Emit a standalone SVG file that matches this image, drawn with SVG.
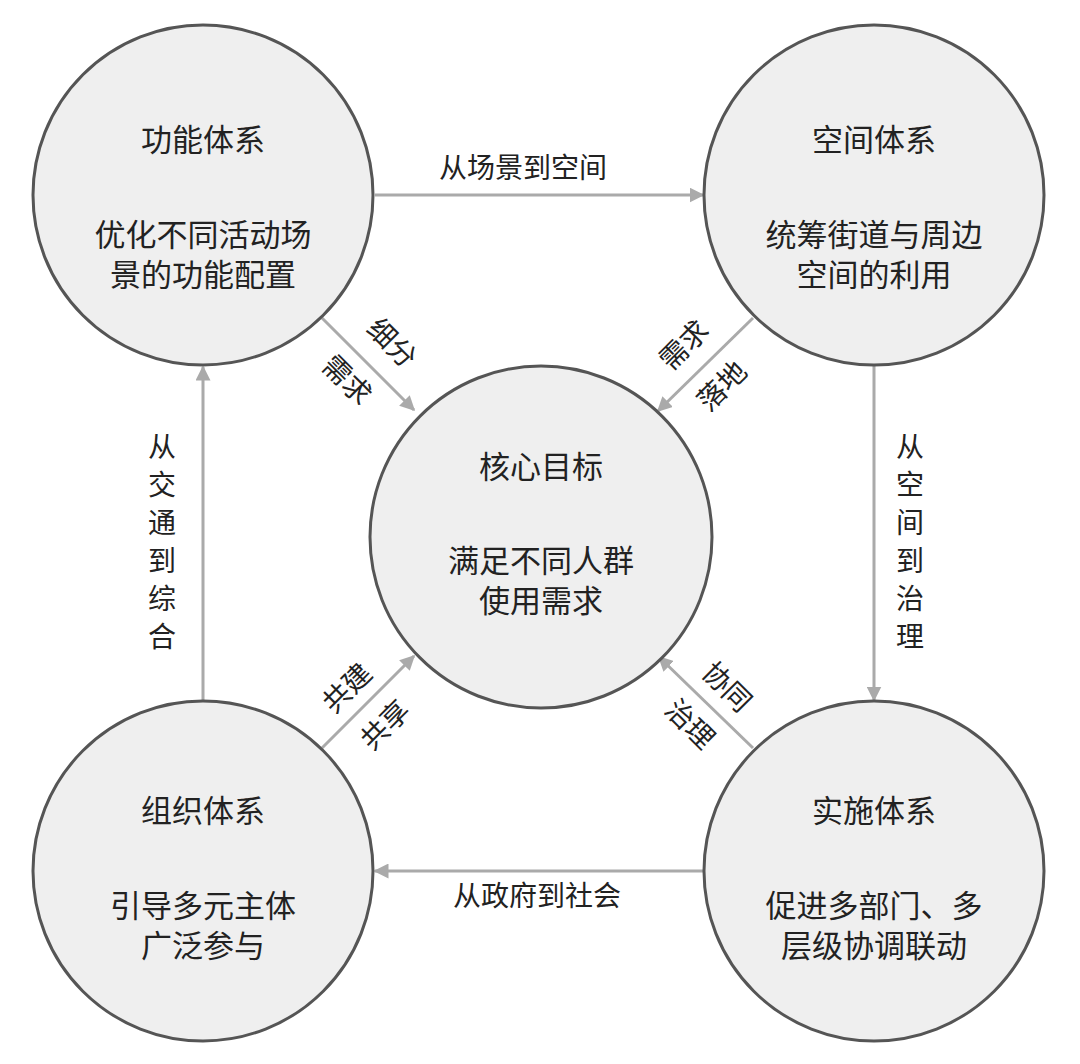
<svg xmlns="http://www.w3.org/2000/svg" width="1080" height="1064" viewBox="0 0 1080 1064">
<style>
.n{fill:#efefef;stroke:#555;stroke-width:3}
text{font-family:"Noto Sans CJK SC",sans-serif;fill:#222;text-anchor:middle}
.t{font-size:31px}
.l{font-size:28px}
.c{stroke:#aaa;stroke-width:3;fill:none;marker-end:url(#a)}
</style>
<defs><marker id="a" viewBox="0 0 10 10" refX="9" refY="5" markerWidth="5" markerHeight="5" orient="auto"><path d="M0,0L10,5L0,10z" fill="#aaa"/></marker></defs>
<rect width="1080" height="1064" fill="#fff"/>
<g id="connectors">
<path class="c" d="M375,195H703"/>
<path class="c" d="M874,366V700"/>
<path class="c" d="M705,871H375"/>
<path class="c" d="M203,700V367"/>
<path class="c" d="M322,318L414,410"/>
<path class="c" d="M753,318L658,411"/>
<path class="c" d="M322,748L414,656"/>
<path class="c" d="M753,748L659,657"/>
</g>
<g id="labels" class="l">
<text class="l" x="523" y="178">从场景到空间</text>
<text class="l" x="537" y="906">从政府到社会</text>
<text class="l" x="910" y="457">从</text><text class="l" x="910" y="495">空</text><text class="l" x="910" y="533">间</text><text class="l" x="910" y="571">到</text><text class="l" x="910" y="609">治</text><text class="l" x="910" y="647">理</text>
<text class="l" x="162" y="457">从</text><text class="l" x="162" y="495">交</text><text class="l" x="162" y="533">通</text><text class="l" x="162" y="571">到</text><text class="l" x="162" y="609">综</text><text class="l" x="162" y="647">合</text>
<text class="l" transform="translate(392,343) rotate(45)" y="10">细分</text>
<text class="l" transform="translate(347,380) rotate(45)" y="10">需求</text>
<text class="l" transform="translate(684,345) rotate(-45)" y="10">需求</text>
<text class="l" transform="translate(722,386) rotate(-45)" y="10">落地</text>
<text class="l" transform="translate(347,688) rotate(-45)" y="10">共建</text>
<text class="l" transform="translate(385,725) rotate(-45)" y="10">共享</text>
<text class="l" transform="translate(727,687) rotate(45)" y="10">协同</text>
<text class="l" transform="translate(690,724) rotate(45)" y="10">治理</text>
</g>
<g id="tl"><circle class="n" cx="203" cy="195" r="170"/><text class="t" x="203" y="151">功能体系</text><text class="t" x="203" y="246">优化不同活动场</text><text class="t" x="203" y="286">景的功能配置</text></g>
<g id="tr"><circle class="n" cx="874" cy="195" r="170"/><text class="t" x="874" y="151">空间体系</text><text class="t" x="874" y="246">统筹街道与周边</text><text class="t" x="874" y="286">空间的利用</text></g>
<g id="c"><circle class="n" cx="541" cy="537" r="171"/><text class="t" x="541" y="478">核心目标</text><text class="t" x="541" y="572">满足不同人群</text><text class="t" x="541" y="612">使用需求</text></g>
<g id="bl"><circle class="n" cx="203" cy="871" r="170"/><text class="t" x="203" y="822">组织体系</text><text class="t" x="203" y="917">引导多元主体</text><text class="t" x="203" y="957">广泛参与</text></g>
<g id="br"><circle class="n" cx="874" cy="871" r="170"/><text class="t" x="874" y="822">实施体系</text><text class="t" x="874" y="917">促进多部门、多</text><text class="t" x="874" y="957">层级协调联动</text></g>
</svg>
